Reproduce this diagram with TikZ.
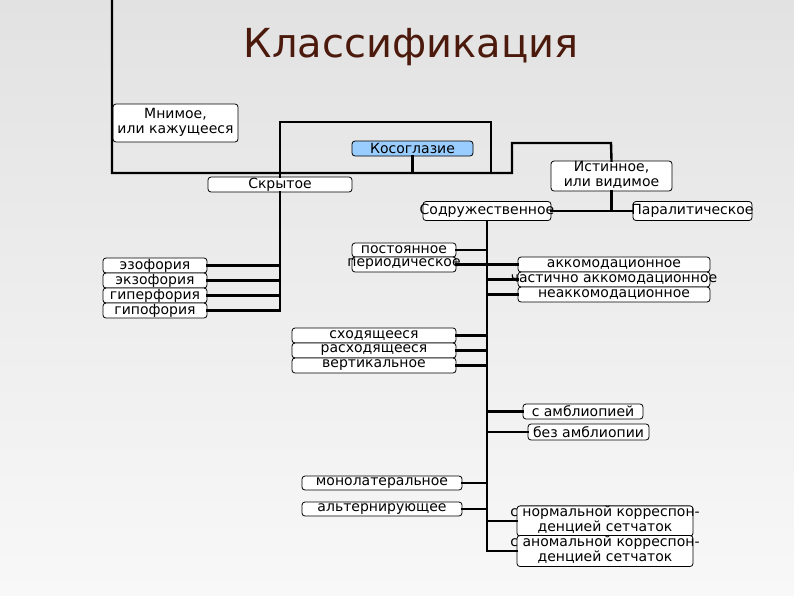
\documentclass[tikz,border=0pt]{standalone}
\usepackage{fontspec}
\setmainfont{DejaVu Sans}
\definecolor{bgtop}{RGB}{226,226,226}
\definecolor{bgbot}{RGB}{248,248,248}
\definecolor{titlebrown}{RGB}{75,26,12}
\definecolor{kosblue}{RGB}{153,204,255}
\newcommand\zc[1]{\makebox[0pt]{\raisebox{-1.2pt}{#1}}}
\newcommand\zz[2]{\makebox[0pt]{\begin{tabular}{@{}c@{}}#1\\#2\end{tabular}}}
\begin{document}
\begin{tikzpicture}[x=1pt,y=-1pt,
  box/.style={draw=black,line width=0.8pt,fill=white,rounded corners=3pt,
    inner sep=0pt,font=\fontsize{14}{15}\selectfont},
  conn/.style={draw=black,line width=2.4pt,line cap=rect},
  titletext/.style={font=\fontsize{40}{44}\selectfont,text=titlebrown,anchor=base}]
\shade[top color=bgtop,bottom color=bgbot] (0,0) rectangle (794,595);
\useasboundingbox (0,0) rectangle (794,595);

\node[titletext] (title) at (411,57) {Классификация};

% coordinates for free-ended connectors
\coordinate (topL) at (112,0);
\coordinate (j1) at (512,173);
\coordinate (j2) at (611,143);
\coordinate (r2) at (491,122);
\coordinate (r3) at (491,173);

% nodes
\node[box,minimum width=125,minimum height=38] (mnim) at (175.5,123) {\zz{Мнимое,}{или кажущееся}};
\node[box,fill=kosblue,minimum width=121,minimum height=15] (kos) at (412.5,148.5) {\zc{Косоглазие}};
\node[box,minimum width=144,minimum height=15] (skr) at (280,184.5) {\zc{Скрытое}};
\node[box,minimum width=121,minimum height=30] (ist) at (611.5,176) {\zz{Истинное,}{или видимое}};
\node[box,minimum width=128,minimum height=19] (sodr) at (487,211) {\zc{Содружественное}};
\node[box,minimum width=119,minimum height=19] (paral) at (692.5,211) {\zc{Паралитическое}};

\node[box,minimum width=104,minimum height=15] (eso) at (155,265.5) {\zc{эзофория}};
\node[box,minimum width=104,minimum height=15] (ekzo) at (155,280.5) {\zc{экзофория}};
\node[box,minimum width=104,minimum height=15] (giper) at (155,295.5) {\zc{гиперфория}};
\node[box,minimum width=104,minimum height=15] (gipo) at (155,310.5) {\zc{гипофория}};

\node[box,minimum width=104,minimum height=14] (post) at (404,250) {\zc{постоянное}};
\node[box,minimum width=104,minimum height=15] (period) at (404,264.5) {\zc{периодическое}};

\node[box,minimum width=192,minimum height=15] (akk) at (614,264.5) {\zc{аккомодационное}};
\node[box,minimum width=192,minimum height=15] (chast) at (614,279.5) {\zc{частично аккомодационное}};
\node[box,minimum width=192,minimum height=15] (neakk) at (614,294.5) {\zc{неаккомодационное}};

\node[box,minimum width=164,minimum height=15] (shod) at (374,335.5) {\zc{сходящееся}};
\node[box,minimum width=164,minimum height=15] (rash) at (374,350.5) {\zc{расходящееся}};
\node[box,minimum width=164,minimum height=15] (vert) at (374,365.5) {\zc{вертикальное}};

\node[box,minimum width=120,minimum height=15] (sambl) at (583,411.5) {\zc{с амблиопией}};
\node[box,minimum width=121,minimum height=16] (bezambl) at (588.5,432) {\zc{без амблиопии}};

\node[box,minimum width=160,minimum height=14] (monol) at (382,483) {\zc{монолатеральное}};
\node[box,minimum width=160,minimum height=14] (alt) at (382,509) {\zc{альтернирующее}};

\node[box,minimum width=176,minimum height=28] (norm) at (605,521) {\zz{с нормальной корреспон-}{денцией сетчаток}};
\node[box,minimum width=176,minimum height=31] (anom) at (605,551) {\zz{с аномальной корреспон-}{денцией сетчаток}};

% connectors
\draw[conn] (topL) |- (j1) |- (j2) -- (ist.north);
\draw[conn] (skr.north) |- (r2) -- (r3);
\draw[conn] (kos.south) -- (kos.south |- j1);
\draw[conn] (skr.south) |- (gipo.east);
\draw[conn] (eso.east) -- (eso.east -| skr.south);
\draw[conn] (ekzo.east) -- (ekzo.east -| skr.south);
\draw[conn] (giper.east) -- (giper.east -| skr.south);
\draw[conn] (ist.south) -- (ist.south |- sodr.east);
\draw[conn] (sodr.east) -- (paral.west);
\draw[conn] (sodr.south) |- (anom.west);
\draw[conn] (post.east) -- (post.east -| sodr.south);
\draw[conn] (period.east) -- (akk.west);
\draw[conn] (chast.west) -- (chast.west -| sodr.south);
\draw[conn] (neakk.west) -- (neakk.west -| sodr.south);
\draw[conn] (shod.east) -- (shod.east -| sodr.south);
\draw[conn] (rash.east) -- (rash.east -| sodr.south);
\draw[conn] (vert.east) -- (vert.east -| sodr.south);
\draw[conn] (sambl.west) -- (sambl.west -| sodr.south);
\draw[conn] (bezambl.west) -- (bezambl.west -| sodr.south);
\draw[conn] (monol.east) -- (monol.east -| sodr.south);
\draw[conn] (alt.east) -- (alt.east -| sodr.south);
\draw[conn] (norm.west) -- (norm.west -| sodr.south);
\end{tikzpicture}
\end{document}
